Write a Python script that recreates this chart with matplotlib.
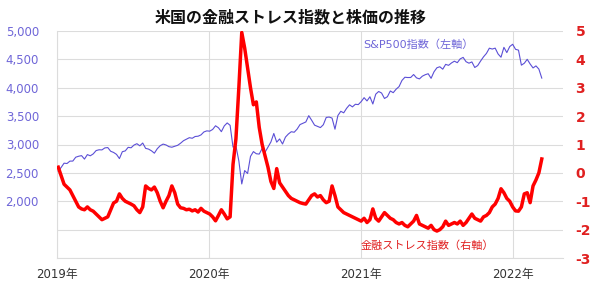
import matplotlib
matplotlib.use("Agg")
import matplotlib.pyplot as plt
import numpy as np
import pandas as pd

plt.rcParams['font.family'] = ['DejaVu Sans', 'Noto Sans CJK JP']

# weekly dates (Fridays) from 2019-01-04
dates = pd.date_range('2019-01-04', periods=167, freq='7D')

sp500 = [
    # 2019
    2532, 2596, 2671, 2665, 2707, 2708, 2776, 2793, 2804, 2743, 2822, 2801, 2834,
    2893, 2907, 2905, 2940, 2946, 2881, 2860, 2826, 2752, 2873, 2887, 2950, 2942,
    2990, 3014, 2977, 3026, 2932, 2919, 2889, 2847, 2926, 2979, 3007, 2992, 2962,
    2952, 2970, 2986, 3023, 3067, 3093, 3120, 3110, 3141, 3146, 3169, 3221, 3240,
    # 2020
    3235, 3265, 3330, 3295, 3226, 3328, 3380, 3338, 2954, 2972, 2711, 2305, 2541,
    2489, 2790, 2875, 2837, 2831, 2930, 2864, 2955, 3044, 3194, 3041, 3098, 3009,
    3130, 3185, 3225, 3216, 3271, 3351, 3373, 3397, 3508, 3427, 3341, 3319, 3298,
    3348, 3477, 3484, 3465, 3270, 3510, 3585, 3558, 3638, 3699, 3663, 3709, 3703, 3756,
    # 2021
    3825, 3768, 3841, 3714, 3887, 3934, 3907, 3811, 3842, 3943, 3913, 3975, 4020,
    4129, 4185, 4180, 4181, 4233, 4174, 4156, 4204, 4230, 4247, 4166, 4281, 4352,
    4370, 4327, 4412, 4395, 4437, 4468, 4442, 4509, 4535, 4459, 4433, 4455, 4357,
    4391, 4471, 4545, 4605, 4697, 4682, 4698, 4595, 4538, 4712, 4620, 4726, 4766,
    # 2022
    4677, 4663, 4398, 4432, 4501, 4419, 4349, 4385, 4329, 4170,
]

stress = [
    # 2019
    0.2, -0.1, -0.4, -0.5, -0.6, -0.8, -1.0, -1.2, -1.27, -1.3, -1.2, -1.3, -1.35,
    -1.45, -1.55, -1.65, -1.6, -1.55, -1.3, -1.06, -1.0, -0.74, -0.9, -1.0, -1.05, -1.1,
    -1.16, -1.3, -1.4, -1.2, -0.46, -0.55, -0.6, -0.5, -0.7, -1.0, -1.23, -1.0, -0.8,
    -0.46, -0.7, -1.1, -1.23, -1.25, -1.3, -1.28, -1.34, -1.3, -1.38, -1.25, -1.35, -1.4,
    # 2020
    -1.45, -1.55, -1.69, -1.5, -1.3, -1.45, -1.62, -1.55, 0.3, 1.2, 3.0, 4.95, 4.4,
    3.7, 3.0, 2.4, 2.5, 1.6, 1.0, 0.6, 0.2, -0.3, -0.55, 0.15, -0.35, -0.5,
    -0.65, -0.8, -0.9, -0.95, -1.0, -1.05, -1.08, -1.1, -0.95, -0.8, -0.74, -0.85, -0.8,
    -0.95, -1.05, -1.0, -0.46, -0.8, -1.2, -1.3, -1.4, -1.45, -1.5, -1.55, -1.6, -1.65, -1.7,
    # 2021
    -1.6, -1.75, -1.65, -1.27, -1.6, -1.7, -1.55, -1.4, -1.5, -1.6, -1.65, -1.75, -1.8,
    -1.75, -1.85, -1.9, -1.8, -1.7, -1.5, -1.8, -1.85, -1.9, -1.95, -1.85, -2.0, -2.05,
    -2.0, -1.9, -1.7, -1.85, -1.8, -1.75, -1.8, -1.7, -1.85, -1.75, -1.6, -1.45, -1.6,
    -1.65, -1.7, -1.55, -1.5, -1.4, -1.2, -1.1, -0.9, -0.56, -0.7, -0.9, -1.0, -1.2,
    # 2022
    -1.34, -1.35, -1.2, -0.74, -0.7, -1.05, -0.46, -0.25, 0.0, 0.49,
]

left_ticks = [1000, 1500, 2000, 2500, 3000, 3500, 4000, 4500, 5000]
left_labels = ['', '', '2,000', '2,500', '3,000', '3,500', '4,000', '4,500', '5,000']
right_ticks = [-3, -2, -1, 0, 1, 2, 3, 4, 5]
year_ticks = ['2019-01-01', '2020-01-01', '2021-01-01', '2022-01-01']
year_labels = ['2019年', '2020年', '2021年', '2022年']

title = '米国の金融ストレス指数と株価の推移'
sp_label = 'S&P500指数（左軸）'
fsi_label = '金融ストレス指数（右軸）'

blue = '#5b4fd6'
red = '#ff0000'
red_txt = '#e02020'
blue_txt = '#6f66d8'
grid_c = '#dcdcdc'

fig = plt.figure(figsize=(6.0, 2.87), dpi=100)
ax = fig.add_axes([57/600, 1-258/287, (563-57)/600, (258-31)/287])
ax2 = ax.twinx()

ax.plot(dates, sp500, color=blue, lw=0.8, zorder=3)
ax2.plot(dates, stress, color=red, lw=2.5, zorder=4)

ax.set_ylim(1000, 5000)
ax2.set_ylim(-3, 5)
ax.set_xlim(pd.Timestamp('2019-01-01'), pd.Timestamp('2022-05-01'))

ax.set_yticks(left_ticks)
ax.set_yticklabels(left_labels, color=blue_txt, fontsize=8.5)
ax2.set_yticks(right_ticks)
ax2.set_yticklabels([str(t) for t in right_ticks], color=red_txt, fontsize=10, fontweight='bold')
ax.set_xticks([pd.Timestamp(d) for d in year_ticks])
ax.set_xticklabels(year_labels, color='#333333', fontsize=8.5)

ax.tick_params(axis='y', length=0, pad=13)
ax2.tick_params(axis='y', length=0, pad=9)
ax.tick_params(axis='x', length=0, pad=7)

ax.grid(True, color=grid_c, lw=0.8)
ax.set_axisbelow(True)
for a in (ax, ax2):
    for s in ('top', 'right'):
        a.spines[s].set_visible(False)
    a.spines['left'].set_color(grid_c)
    a.spines['bottom'].set_color(grid_c)
ax2.spines['left'].set_visible(False)
ax2.spines['bottom'].set_visible(False)

fig.text(291/600, 1-17/287, title, ha='center', va='center', fontsize=11.5,
         fontweight='bold', family=['Noto Sans CJK JP', 'DejaVu Sans'], color='#111111')
ax.text(0.605, 0.94, sp_label, transform=ax.transAxes, color=blue_txt, fontsize=8,
        ha='left', va='center', family=['DejaVu Sans', 'Noto Sans CJK JP'])
ax.text(0.6, 0.055, fsi_label, transform=ax.transAxes, color=red_txt, fontsize=8,
        ha='left', va='center', family=['Noto Sans CJK JP', 'DejaVu Sans'])

fig.savefig('out.png', dpi=100)
